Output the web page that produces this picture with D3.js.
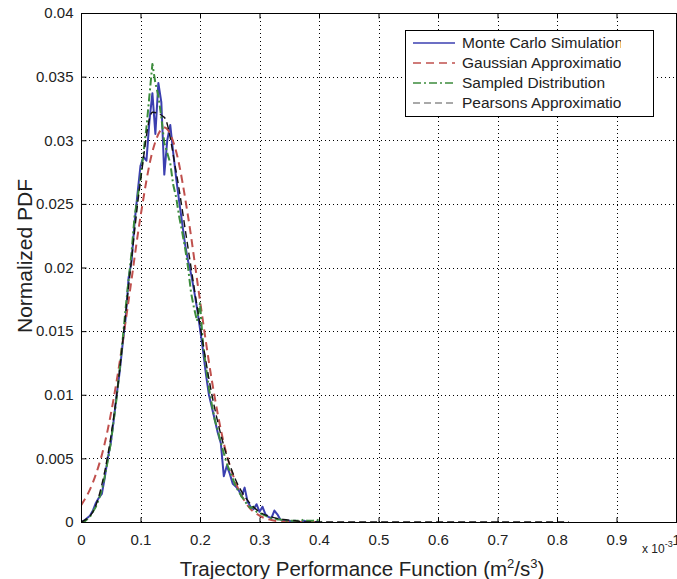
<!DOCTYPE html>
<html>
<head>
<meta charset="utf-8">
<script src="https://cdn.jsdelivr.net/npm/d3@7/dist/d3.min.js"></script>
<style>
  body { margin: 0; background: #fff; }
  text { font-family: "Liberation Sans", Arial, Helvetica, sans-serif; fill: #222; }
</style>
</head>
<body>
<svg width="677" height="579"></svg>
<script>
// ticks (x values are in units of 10^-3 m^2/s^3)
var xTicks = [0, 0.1, 0.2, 0.3, 0.4, 0.5, 0.6, 0.7, 0.8, 0.9, 1];
var yTicks = [0, 0.005, 0.01, 0.015, 0.02, 0.025, 0.03, 0.035, 0.04];

var seriesNames = ["Monte Carlo Simulations", "Gaussian Approximation", "Sampled Distribution", "Pearsons Approximation"];

// Monte Carlo histogram, bins every 0.005 starting at 0
var mcStep = 0.005;
var mcValues = [0, 0.0001, 0.0003, 0.0005, 0.0009, 0.0015, 0.0019, 0.0022, 0.0035, 0.0050,
  0.0062, 0.0080, 0.0100, 0.0118, 0.0140, 0.0160, 0.0192, 0.0205, 0.0235, 0.0258,
  0.0280, 0.0287, 0.0284, 0.0315, 0.0337, 0.0305, 0.0345, 0.0330, 0.0273, 0.0300,
  0.0312, 0.0290, 0.0270, 0.0252, 0.0235, 0.0218, 0.0205, 0.0195, 0.0182, 0.0168,
  0.0152, 0.0135, 0.0116, 0.0100, 0.0090, 0.0080, 0.0070, 0.0062, 0.0036, 0.0044,
  0.0038, 0.0030, 0.0028, 0.0025, 0.0020, 0.0027, 0.0016, 0.0012, 0.0010, 0.0014,
  0.0008, 0.0012, 0.0006, 0.0004, 0.0003, 0.0009, 0.0006, 0.0002, 0.0001, 0.0001,
  0.0001, 0, 0.0001, 0, 0, 0.0001, 0, 0, 0, 0, 0];

// Sampled distribution, same bins
var sampledStep = 0.005;
var sampledValues = [0, 0, 0.0002, 0.0004, 0.0008, 0.0012, 0.0018, 0.0025, 0.0036, 0.0048,
  0.0062, 0.0080, 0.0098, 0.0120, 0.0143, 0.0168, 0.0190, 0.0212, 0.0240, 0.0255,
  0.0270, 0.0290, 0.0310, 0.0335, 0.0360, 0.0345, 0.0335, 0.0318, 0.0298, 0.0290,
  0.0282, 0.0265, 0.0255, 0.0240, 0.0228, 0.0215, 0.0200, 0.0180, 0.0168, 0.0158,
  0.0172, 0.0140, 0.0122, 0.0105, 0.0092, 0.0080, 0.0072, 0.0062, 0.0054, 0.0046,
  0.0040, 0.0034, 0.0028, 0.0024, 0.0020, 0.0017, 0.0013, 0.0011, 0.0012, 0.0008,
  0.0007, 0.0006, 0.0005, 0.0004, 0.0003, 0.0003, 0.0002, 0.0002, 0.0001, 0.0001,
  0.0001, 0.0001, 0.0001, 0.0001, 0.0001, 0.0002, 0.0001, 0.0001, 0.0001, 0.0002, 0.0001, 0];

// Gaussian approximation, every 0.02
var gaussStep = 0.02;
var gaussValues = [0.0013, 0.0031, 0.0062, 0.0111, 0.0174, 0.0240, 0.0291, 0.0310, 0.0291, 0.0240,
  0.0174, 0.0111, 0.0062, 0.0031, 0.0013, 0.0005, 0.00015, 0.00004, 0, 0, 0];

// Pearson approximation, every 0.02
var pearsonStep = 0.02;
var pearsonValues = [0, 0.0008, 0.0040, 0.0100, 0.0185, 0.0268, 0.0322, 0.0318, 0.0275, 0.0215,
  0.0155, 0.0100, 0.0060, 0.0033, 0.0017, 0.0008, 0.0004, 0.0002, 0.0001, 0, 0,
  0, 0, 0, 0, 0, 0, 0, 0, 0, 0, 0, 0, 0, 0, 0, 0, 0, 0, 0, 0, 0];

var colors = ["#3b3fb0", "#c0504d", "#3c8c3c", "#111"];

var svg = d3.select("svg"),
    plotLeft = 81, plotRight = 676, plotTop = 13, plotBottom = 522;

var x = d3.scaleLinear().domain([0, 1]).range([plotLeft, plotRight]);
var y = d3.scaleLinear().domain([0, 0.04]).range([plotBottom, plotTop]);

function toPoints(values, step) {
  return values.map(function (v, i) { return [i * step, v]; });
}

// grid
svg.append("g").selectAll("line")
    .data(xTicks.slice(1, -1))
    .enter().append("line")
    .attr("x1", function (d) { return Math.round(x(d)) + 0.5; })
    .attr("x2", function (d) { return Math.round(x(d)) + 0.5; })
    .attr("y1", plotTop).attr("y2", plotBottom)
    .attr("stroke", "#000").attr("stroke-width", 1)
    .attr("stroke-dasharray", "1,3");

svg.append("g").selectAll("line")
    .data(yTicks.slice(1, -1))
    .enter().append("line")
    .attr("y1", function (d) { return Math.round(y(d)) + 0.5; })
    .attr("y2", function (d) { return Math.round(y(d)) + 0.5; })
    .attr("x1", plotLeft).attr("x2", plotRight)
    .attr("stroke", "#000").attr("stroke-width", 1)
    .attr("stroke-dasharray", "1,3");

// data
var defs = svg.append("defs");
defs.append("clipPath").attr("id", "plot-clip")
    .append("rect")
    .attr("x", plotLeft).attr("y", plotTop)
    .attr("width", plotRight - plotLeft).attr("height", plotBottom - plotTop + 2);

var line = d3.line()
    .x(function (d) { return x(d[0]); })
    .y(function (d) { return y(d[1]); });
var smooth = d3.line()
    .x(function (d) { return x(d[0]); })
    .y(function (d) { return y(d[1]); })
    .curve(d3.curveMonotoneX);

var plot = svg.append("g").attr("clip-path", "url(#plot-clip)");

var series = [
  { pts: toPoints(mcValues, mcStep), gen: line, color: colors[0], width: 2, dash: null },
  { pts: toPoints(gaussValues, gaussStep), gen: smooth, color: colors[1], width: 2, dash: "8,5" },
  { pts: toPoints(sampledValues, sampledStep), gen: line, color: colors[2], width: 2, dash: "8,3,2,3" },
  { pts: toPoints(pearsonValues, pearsonStep), gen: smooth, color: colors[3], width: 1.4, dash: "7,4" }
];

series.forEach(function (s) {
  plot.append("path")
      .attr("d", s.gen(s.pts))
      .attr("fill", "none")
      .attr("stroke", s.color)
      .attr("stroke-width", s.width)
      .attr("stroke-dasharray", s.dash)
      .attr("stroke-linejoin", "round");
});

// axes box, MATLAB style (ticks inward on all sides)
svg.append("rect")
    .attr("x", plotLeft + 0.5).attr("y", plotTop + 0.5)
    .attr("width", plotRight - plotLeft).attr("height", plotBottom - plotTop)
    .attr("fill", "none").attr("stroke", "#000");

var xAxis = svg.append("g")
    .attr("transform", "translate(0," + (plotBottom + 0.5) + ")")
    .call(d3.axisBottom(x).tickValues(xTicks).tickSize(-5).tickPadding(12)
      .tickFormat(function (d) { return String(d); }));
xAxis.select(".domain").remove();

var xAxisTop = svg.append("g")
    .attr("transform", "translate(0," + (plotTop + 0.5) + ")")
    .call(d3.axisTop(x).tickValues(xTicks).tickSize(-5).tickFormat(""));
xAxisTop.select(".domain").remove();

var yAxis = svg.append("g")
    .attr("transform", "translate(" + (plotLeft + 0.5) + ",0)")
    .call(d3.axisLeft(y).tickValues(yTicks).tickSize(-5).tickPadding(8)
      .tickFormat(function (d) { return String(d); }));
yAxis.select(".domain").remove();

svg.selectAll(".tick line").attr("stroke", "#000");
svg.selectAll(".tick text")
    .style("font-family", "\"Liberation Sans\", Arial, sans-serif")
    .style("font-size", "15px")
    .attr("fill", "#333");

// axis labels
svg.append("text")
    .attr("x", 362).attr("y", 576)
    .attr("text-anchor", "middle")
    .style("font-size", "20.5px")
    .call(function (t) {
      t.append("tspan").text("Trajectory Performance Function (m");
      t.append("tspan").attr("dy", -8).style("font-size", "13px").text("2");
      t.append("tspan").attr("dy", 8).text("/s");
      t.append("tspan").attr("dy", -8).style("font-size", "13px").text("3");
      t.append("tspan").attr("dy", 8).text(")");
    });

svg.append("text")
    .attr("transform", "translate(32,256) rotate(-90)")
    .attr("text-anchor", "middle")
    .style("font-size", "21px")
    .text("Normalized PDF");

svg.append("text")
    .attr("x", 642).attr("y", 553)
    .style("font-size", "12px")
    .attr("fill", "#333")
    .call(function (t) {
      t.append("tspan").text("x 10");
      t.append("tspan").attr("dy", -6).style("font-size", "9px").text("-3");
    });

// legend
var legend = svg.append("g");
legend.append("rect")
    .attr("x", 405.5).attr("y", 30.5)
    .attr("width", 248).attr("height", 86)
    .attr("fill", "#fff").attr("stroke", "#000");

defs.append("clipPath").attr("id", "legend-clip")
    .append("rect").attr("x", 405).attr("y", 30).attr("width", 216).attr("height", 86);

var legendColors = [colors[0], colors[1], colors[2], "#555"];
seriesNames.forEach(function (name, i) {
  var ly = 43 + i * 20;
  legend.append("line")
      .attr("x1", 413).attr("x2", 455)
      .attr("y1", ly).attr("y2", ly)
      .attr("stroke", legendColors[i])
      .attr("stroke-width", i < 3 ? 1.5 : 1.2)
      .attr("stroke-dasharray", series[i].dash);
  legend.append("text")
      .attr("x", 462).attr("y", ly + 5)
      .attr("clip-path", "url(#legend-clip)")
      .style("font-size", "15.5px")
      .text(name);
});
</script>
</body>
</html>
